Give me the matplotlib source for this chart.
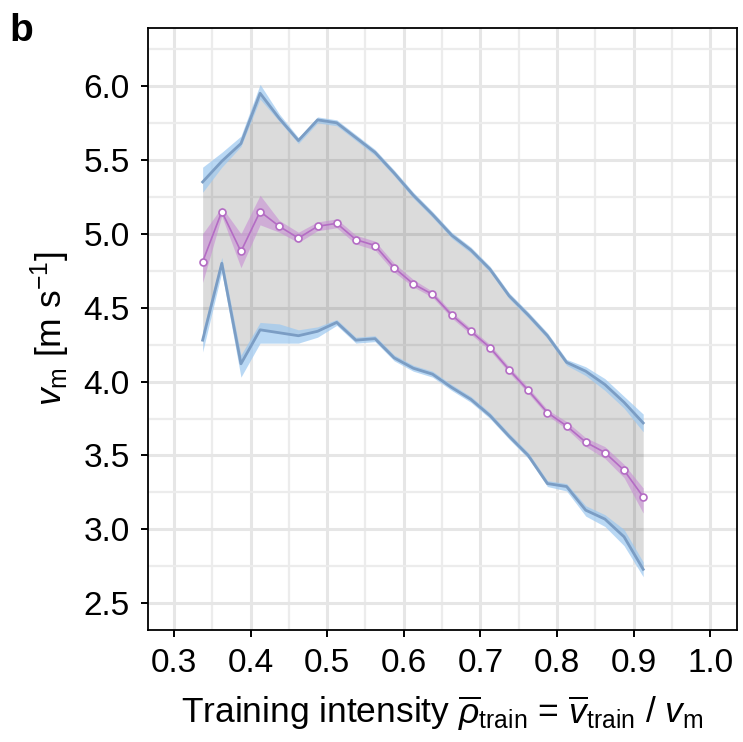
import numpy as np
import matplotlib.pyplot as plt

plt.rcParams['font.family'] = ['Liberation Sans', 'DejaVu Sans']
plt.rcParams['mathtext.fontset'] = 'custom'
plt.rcParams['mathtext.rm'] = 'Liberation Sans'
plt.rcParams['mathtext.it'] = 'Liberation Sans:italic'

# training intensity bins
x = [0.3375, 0.3625, 0.3875, 0.4125, 0.4375, 0.4625, 0.4875, 0.5125,
     0.5375, 0.5625, 0.5875, 0.6125, 0.6375, 0.6625, 0.6875, 0.7125,
     0.7375, 0.7625, 0.7875, 0.8125, 0.8375, 0.8625, 0.8875, 0.9125]

# mean v_m (purple) and its band
mean_v = [4.81, 5.15, 4.88, 5.15, 5.05, 4.97, 5.05, 5.07, 4.96, 4.92, 4.77, 4.66,
          4.59, 4.45, 4.34, 4.23, 4.08, 3.94, 3.79, 3.70, 3.59, 3.52, 3.40, 3.22]
mean_lo = [4.67, 5.12, 4.77, 5.06, 5.01, 4.94, 5.02, 5.04, 4.93, 4.89, 4.74, 4.64,
           4.57, 4.43, 4.32, 4.21, 4.06, 3.92, 3.77, 3.68, 3.56, 3.48, 3.35, 3.11]
mean_hi = [5.00, 5.18, 5.00, 5.26, 5.09, 5.01, 5.08, 5.10, 4.99, 4.95, 4.80, 4.69,
           4.61, 4.47, 4.36, 4.25, 4.10, 3.96, 3.81, 3.73, 3.62, 3.56, 3.44, 3.28]

# upper envelope (blue) and its band
upper_v = [5.35, 5.49, 5.61, 5.95, 5.78, 5.63, 5.77, 5.75, 5.65, 5.55, 5.41, 5.26,
           5.13, 4.99, 4.89, 4.76, 4.58, 4.45, 4.31, 4.13, 4.07, 3.98, 3.86, 3.72]
upper_lo = [5.28, 5.45, 5.59, 5.91, 5.76, 5.61, 5.75, 5.73, 5.63, 5.53, 5.39, 5.24,
            5.11, 4.97, 4.87, 4.74, 4.56, 4.43, 4.29, 4.11, 4.04, 3.94, 3.82, 3.66]
upper_hi = [5.45, 5.55, 5.66, 6.01, 5.81, 5.65, 5.79, 5.77, 5.67, 5.57, 5.43, 5.28,
            5.15, 5.01, 4.91, 4.78, 4.60, 4.47, 4.33, 4.15, 4.10, 4.02, 3.90, 3.78]

# lower envelope (blue) and its band
lower_v = [4.28, 4.80, 4.12, 4.35, 4.33, 4.31, 4.34, 4.40, 4.28, 4.29, 4.16, 4.09,
           4.05, 3.96, 3.88, 3.77, 3.63, 3.50, 3.31, 3.29, 3.13, 3.07, 2.95, 2.73]
lower_lo = [4.20, 4.74, 4.03, 4.26, 4.26, 4.26, 4.30, 4.38, 4.26, 4.27, 4.14, 4.07,
            4.03, 3.94, 3.86, 3.75, 3.61, 3.48, 3.29, 3.26, 3.09, 3.02, 2.89, 2.68]
lower_hi = [4.34, 4.84, 4.18, 4.40, 4.39, 4.35, 4.37, 4.42, 4.30, 4.31, 4.18, 4.11,
            4.07, 3.98, 3.90, 3.79, 3.65, 3.52, 3.33, 3.31, 3.16, 3.10, 3.00, 2.78]

blue = '#7b9dc4'
blue_band = '#9cc8f0'
purple = '#b46cc4'
purple_band = '#c88fd4'

fig = plt.figure(figsize=(7.43, 7.42), dpi=100)
ax = fig.add_axes([0.199, 0.151, 0.793, 0.811])

ax.fill_between(x, lower_v, upper_v, color='black', alpha=0.14, lw=0, zorder=2)
ax.fill_between(x, upper_lo, upper_hi, color=blue_band, alpha=0.7, lw=0, zorder=3)
ax.fill_between(x, lower_lo, lower_hi, color=blue_band, alpha=0.7, lw=0, zorder=3)
ax.plot(x, upper_v, color=blue, lw=2, zorder=4)
ax.plot(x, lower_v, color=blue, lw=2, zorder=4)
ax.fill_between(x, mean_lo, mean_hi, color=purple_band, alpha=0.6, lw=0, zorder=3)
ax.plot(x, mean_v, color=purple, lw=1.2, marker='o', ms=5, mfc='white',
        mec=purple, mew=1.2, zorder=5)

ax.set_xticks(np.arange(0.3, 1.01, 0.1))
ax.set_xticks(np.arange(0.25, 1.05, 0.05), minor=True)
ax.set_yticks(np.arange(2.5, 6.01, 0.5))
ax.set_yticks(np.arange(2.25, 6.4, 0.25), minor=True)
ax.set_xticklabels(['0.3', '0.4', '0.5', '0.6', '0.7', '0.8', '0.9', '1.0'])
ax.set_yticklabels(['2.5', '3.0', '3.5', '4.0', '4.5', '5.0', '5.5', '6.0'])
ax.set_xlim(0.266, 1.035)
ax.set_ylim(2.32, 6.39)
ax.grid(which='major', color='#e6e6e6', lw=2.2, zorder=0)
ax.grid(which='minor', color='#ececec', lw=1.6, zorder=0)
ax.set_axisbelow(True)
ax.tick_params(which='major', direction='out', length=5, width=1.4,
               labelsize=24, colors='black', pad=8)
ax.tick_params(which='minor', length=0)
for s in ax.spines.values():
    s.set_linewidth(1.3)
    s.set_color('black')

ax.set_xlabel(r'Training intensity $\overline{\rho}_{\mathrm{train}}$ = $\overline{v}_{\mathrm{train}}$ / $v_{\mathrm{m}}$',
              fontsize=25.5, labelpad=10)
ax.set_ylabel(r'$v_{\mathrm{m}}$ [m s$^{-1}$]', fontsize=25.5, labelpad=8)

fig.text(0.013, 0.945, 'b', fontsize=28, fontweight='bold')

plt.savefig('out.png', dpi=100)
